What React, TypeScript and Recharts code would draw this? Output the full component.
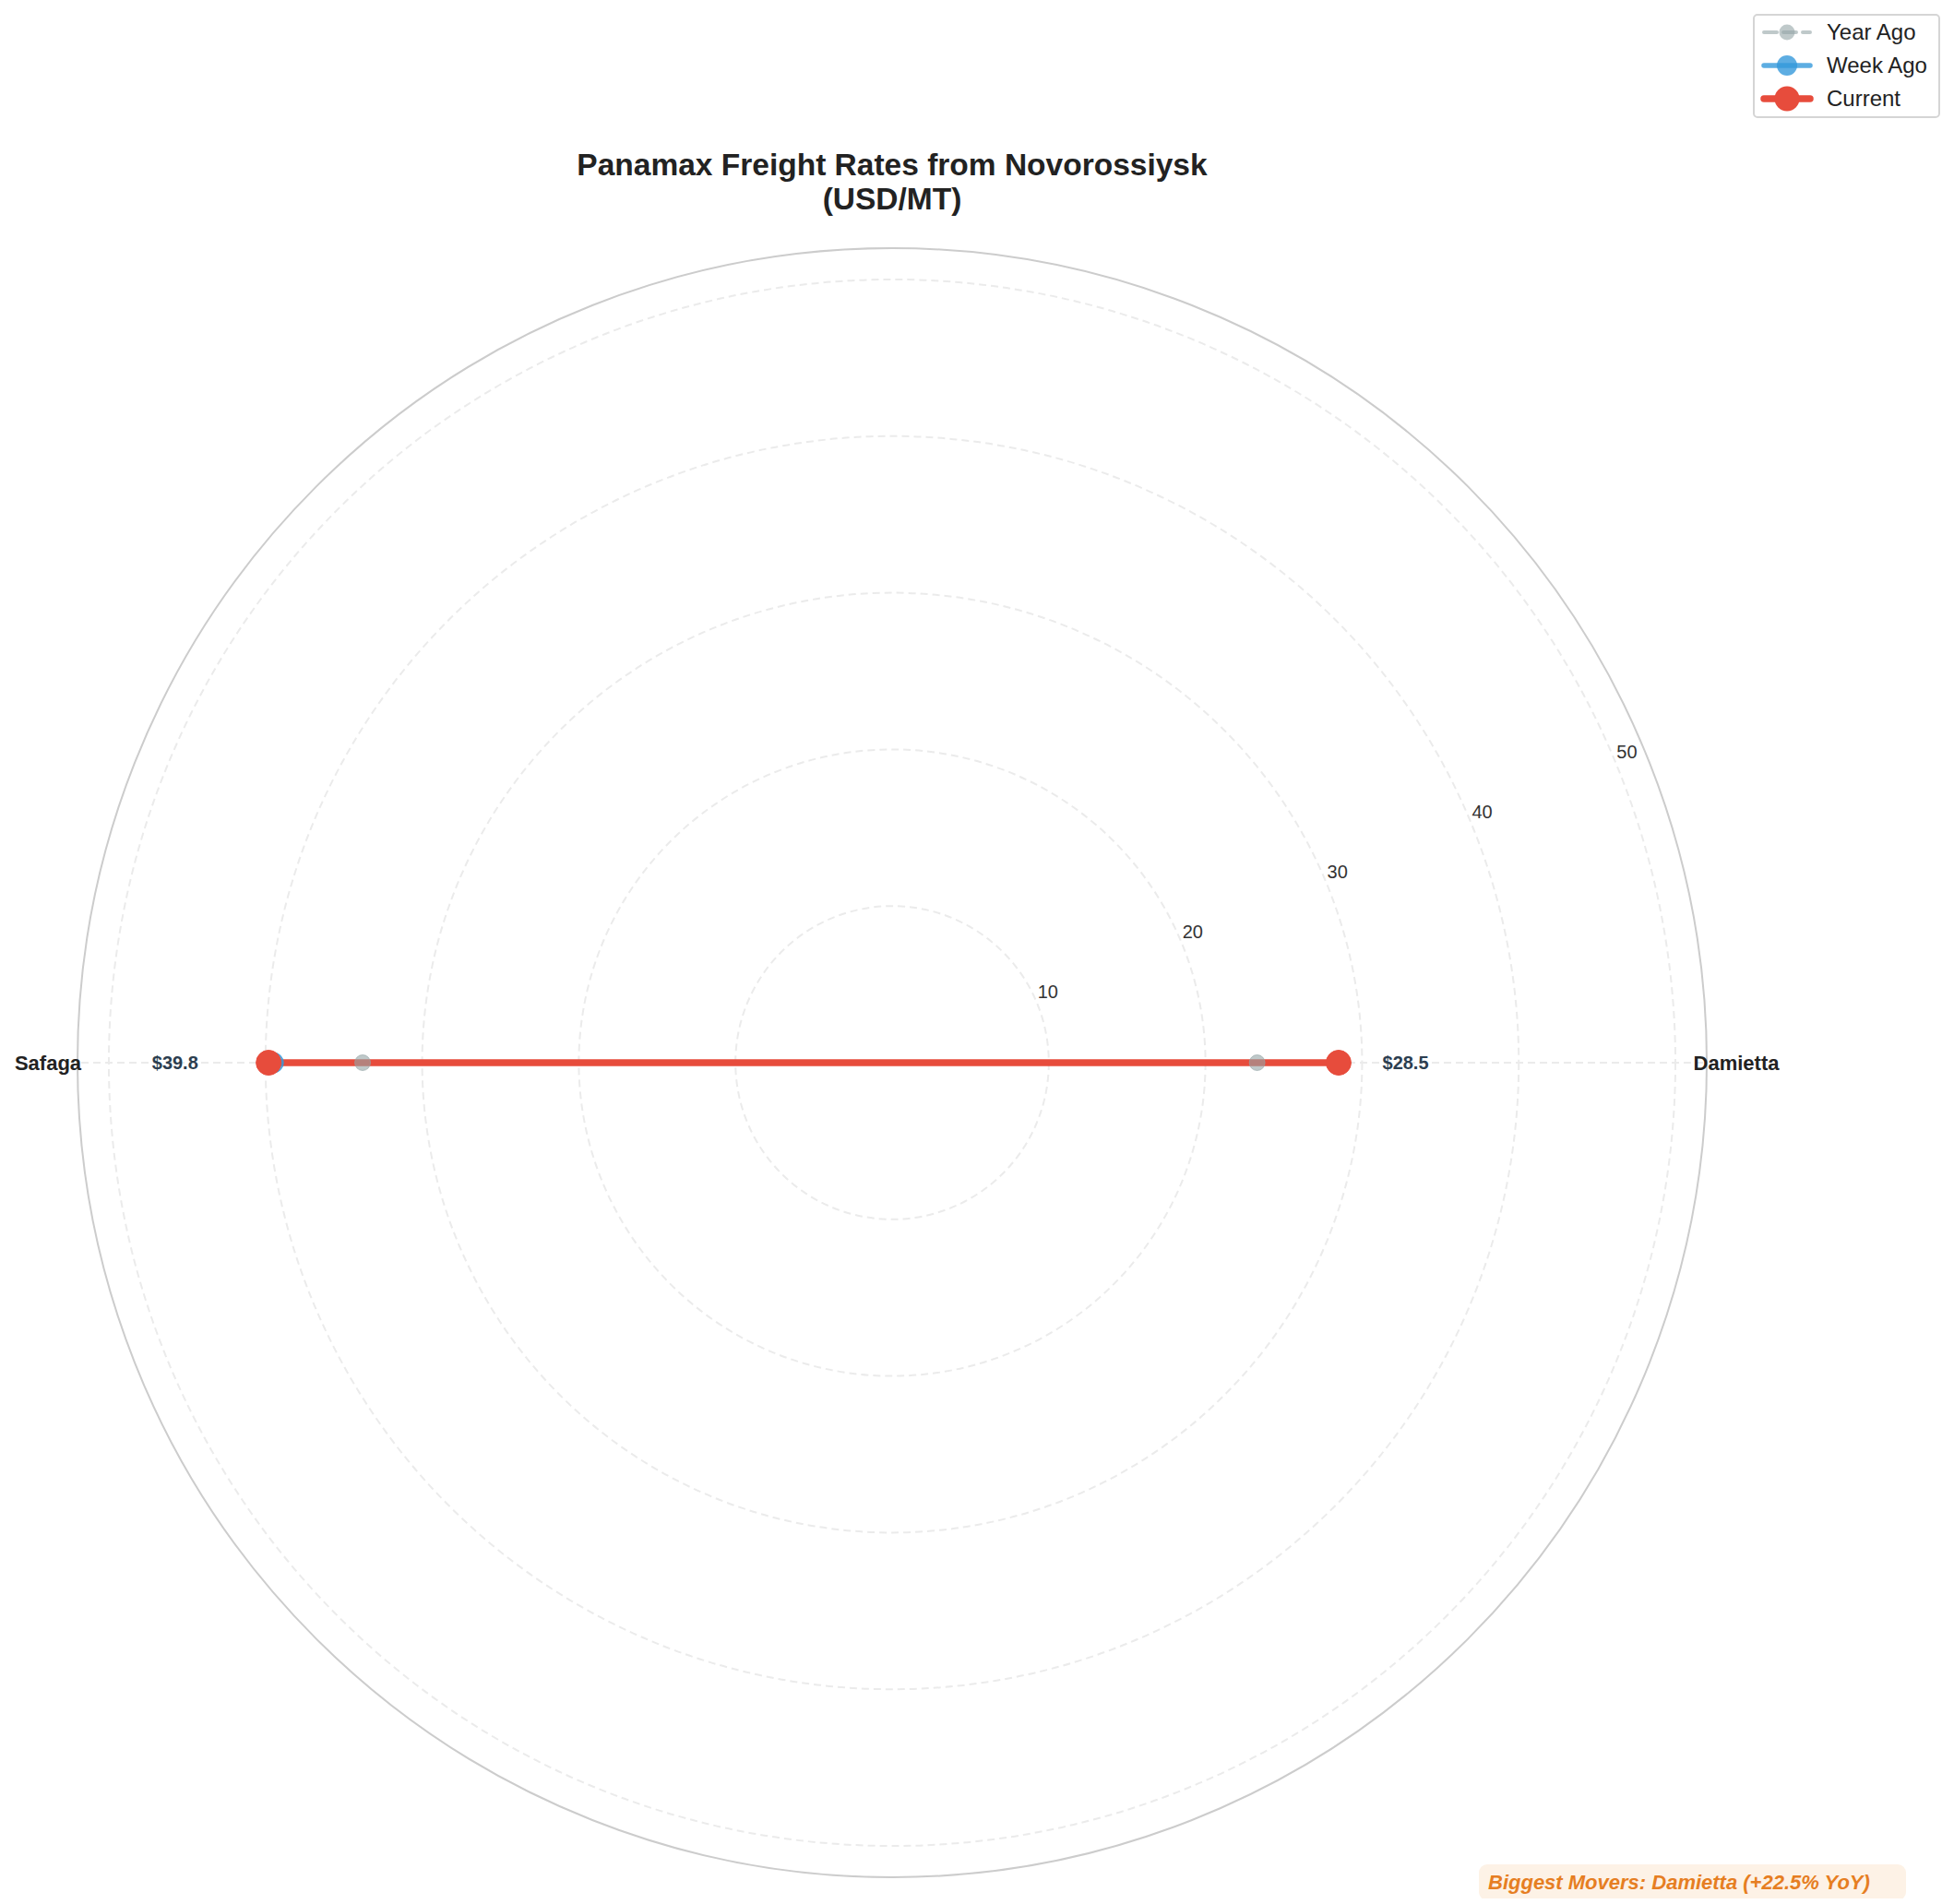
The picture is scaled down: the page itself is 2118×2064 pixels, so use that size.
import { RadarChart, Radar, PolarGrid, PolarAngleAxis, PolarRadiusAxis } from 'recharts'

const ports = ['Damietta', 'Safaga']
const yearAgo = [23.3, 33.8]
const weekAgo = [28.4, 39.5]
const current = [28.5, 39.8]
const radialTicks = [10, 20, 30, 40, 50]
const radialMax = 51.5

const data = ports.map((port, i) => ({
  port,
  yearAgo: yearAgo[i],
  weekAgo: weekAgo[i],
  current: current[i],
}))

const series = [
  { key: 'yearAgo', name: 'Year Ago', color: '#95a5a6', width: 4, dash: '14 7', r: 8.5, opacity: 0.6 },
  { key: 'weekAgo', name: 'Week Ago', color: '#3498db', width: 5.5, dash: undefined, r: 11, opacity: 0.8 },
  { key: 'current', name: 'Current', color: '#e74c3c', width: 7.5, dash: undefined, r: 13.5, opacity: 1 },
]

const W = 2100
const H = 2050
const CX = 959
const CY = 1144
const OUTER = 883
const FONT = 'Liberation Sans, Arial, sans-serif'

function AngleTick({ x, y, payload }: any) {
  return (
    <text x={x} y={y} textAnchor="middle" dominantBaseline="central" fontFamily={FONT} fontSize={22} fontWeight="bold" fill="#222">
      {payload.value}
    </text>
  )
}

function RadiusTick({ x, y, payload }: any) {
  return (
    <text x={x + 12} y={y - 12} textAnchor="middle" dominantBaseline="central" fontFamily={FONT} fontSize={20} fill="#333">
      {payload.value}
    </text>
  )
}

function makeDot(s: typeof series[number], withLabel: boolean) {
  return (props: any) => {
    const { cx, cy, payload, index } = props
    let val: any = props.value
    if (typeof val !== 'number') val = payload?.[s.key]
    if (typeof val !== 'number') val = payload?.payload?.[s.key]
    if (typeof val !== 'number') val = payload?.value
    return (
      <g key={`${s.key}-dot-${index}`}>
        <circle cx={cx} cy={cy} r={s.r} fill={s.color} fillOpacity={s.opacity} stroke={s.color} strokeOpacity={s.opacity} strokeWidth={1} />
        {withLabel && typeof val === 'number' && (
          <text
            x={CX + (cx - CX) * 1.15}
            y={CY + (cy - CY) * 1.15}
            textAnchor="middle"
            dominantBaseline="central"
            fontFamily={FONT}
            fontSize={20}
            fontWeight="bold"
            fill="#2c3e50"
          >
            ${val.toFixed(1)}
          </text>
        )}
      </g>
    )
  }
}

function LegendBox() {
  return (
    <div
      style={{
        position: 'absolute',
        left: 1892,
        top: 7,
        width: 203,
        height: 113,
        boxSizing: 'border-box',
        border: '2px solid #d5d5d5',
        borderRadius: 5,
        background: 'rgba(255,255,255,0.8)',
      }}
    >
      {series.map((s) => (
        <div key={s.key} style={{ height: 36, display: 'flex', alignItems: 'center', position: 'relative' }}>
          <svg width={70} height={36} style={{ position: 'absolute', left: 6, top: 0 }}>
            <line x1={4} y1={18} x2={54} y2={18} stroke={s.color} strokeOpacity={s.opacity} strokeWidth={s.width} strokeDasharray={s.dash} strokeLinecap="round" />
            <circle cx={29} cy={18} r={s.r} fill={s.color} fillOpacity={s.opacity} />
          </svg>
          <span style={{ position: 'absolute', left: 78, fontFamily: FONT, fontSize: 24, color: '#222' }}>{s.name}</span>
        </div>
      ))}
    </div>
  )
}

export default function App() {
  return (
    <div style={{ position: 'relative', width: W, height: H, background: '#fff' }}>
      <div
        style={{
          position: 'absolute',
          left: 0,
          top: 152,
          width: CX * 2,
          textAlign: 'center',
          fontFamily: FONT,
          fontSize: 33.5,
          fontWeight: 'bold',
          lineHeight: '37px',
          color: '#222',
        }}
      >
        Panamax Freight Rates from Novorossiysk
        <br />
        (USD/MT)
      </div>
      <RadarChart
        width={W}
        height={H}
        data={data}
        cx={CX}
        cy={CY}
        outerRadius={OUTER}
        startAngle={0}
        endAngle={-360}
        margin={{ top: 0, right: 0, bottom: 0, left: 0 }}
        style={{ position: 'absolute', left: 0, top: 0 }}
      >
        <PolarGrid gridType="circle" stroke="#ebebeb" strokeWidth={2} strokeDasharray="8 5" />
        <PolarAngleAxis
          dataKey="port"
          axisLineType="circle"
          axisLine={{ stroke: '#cccccc', strokeWidth: 2 }}
          tickLine={false}
          tickSize={32}
          tick={<AngleTick />}
        />
        <PolarRadiusAxis
          angle={22.5}
          type="number"
          domain={[0, radialMax]}
          allowDataOverflow
          ticks={radialTicks}
          axisLine={false}
          tickLine={false}
          tick={<RadiusTick />}
        />
        {series.map((s) => (
          <Radar
            key={s.key}
            name={s.name}
            dataKey={s.key}
            stroke={s.color}
            strokeOpacity={s.opacity}
            strokeWidth={s.width}
            strokeDasharray={s.dash}
            fill="none"
            fillOpacity={0}
            dot={makeDot(s, s.key === 'current')}
            activeDot={false}
            isAnimationActive={false}
          />
        ))}
      </RadarChart>
      <LegendBox />
      <div
        style={{
          position: 'absolute',
          left: 1595,
          top: 2013,
          width: 463,
          height: 39,
          borderRadius: 9,
          background: '#fdf2e6',
          display: 'flex',
          alignItems: 'center',
          boxSizing: 'border-box',
          paddingLeft: 10,
          fontFamily: FONT,
          fontSize: 22,
          fontWeight: 'bold',
          fontStyle: 'italic',
          color: '#e67e22',
        }}
      >
        Biggest Movers: Damietta (+22.5% YoY)
      </div>
    </div>
  )
}
